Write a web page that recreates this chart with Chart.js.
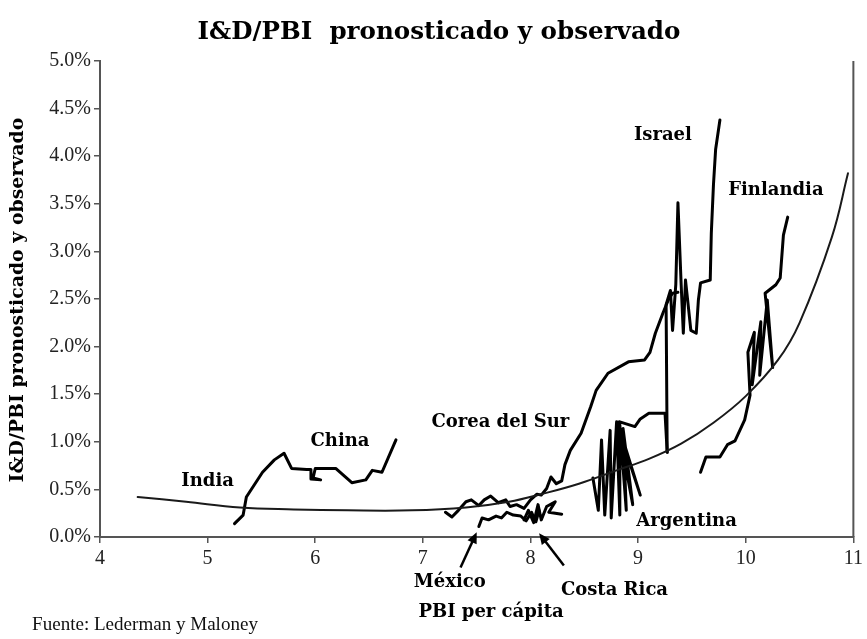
<!DOCTYPE html>
<html><head><meta charset="utf-8">
<script src="https://cdn.jsdelivr.net/npm/chart.js@4.4.1/dist/chart.umd.min.js"></script>
<style>html,body{margin:0;padding:0;background:#fff}#wrap{width:867px;height:639px}</style>
</head><body><div id="wrap"><canvas id="c" width="867" height="639"></canvas></div>
<script>
// ---- Data (x: PBI per cápita (log), y: I&D/PBI in %) ----
const xTickValues = [4, 5, 6, 7, 8, 9, 10, 11];
const yTickValues = [0, 0.5, 1, 1.5, 2, 2.5, 3, 3.5, 4, 4.5, 5];

const fittedX = [4.35, 4.8, 5.3, 5.8, 6.3, 6.9, 7.4, 7.8, 8.1, 8.45, 8.8, 9.1, 9.4, 9.7, 10.0, 10.3, 10.5, 10.8, 10.95];
const fittedY = [0.42, 0.37, 0.31, 0.29, 0.28, 0.28, 0.31, 0.37, 0.45, 0.56, 0.70, 0.82, 0.98, 1.20, 1.48, 1.86, 2.25, 3.15, 3.82];

const indiaChinaX = [5.25, 5.33, 5.36, 5.51, 5.62, 5.71, 5.78, 5.92, 5.96, 5.96, 6.05, 5.98, 6.0, 6.19, 6.34, 6.47, 6.53, 6.62, 6.75];
const indiaChinaY = [0.14, 0.23, 0.42, 0.68, 0.81, 0.88, 0.72, 0.71, 0.71, 0.61, 0.60, 0.62, 0.72, 0.72, 0.57, 0.60, 0.70, 0.68, 1.02];

const koreaX = [7.21, 7.27, 7.33, 7.40, 7.45, 7.52, 7.57, 7.63, 7.70, 7.77, 7.81, 7.87, 7.94, 8.00, 8.06, 8.10, 8.15, 8.19, 8.24, 8.29, 8.32, 8.37, 8.47, 8.56, 8.61, 8.72, 8.91, 9.06, 9.11, 9.16, 9.23, 9.28, 9.32, 9.37];
const koreaY = [0.26, 0.21, 0.28, 0.37, 0.39, 0.33, 0.39, 0.43, 0.36, 0.39, 0.32, 0.34, 0.30, 0.39, 0.45, 0.44, 0.51, 0.63, 0.56, 0.59, 0.76, 0.91, 1.09, 1.37, 1.54, 1.72, 1.84, 1.86, 1.94, 2.14, 2.35, 2.49, 2.56, 2.57];

const israelX = [9.27, 9.26, 9.30, 9.32, 9.35, 9.37, 9.40, 9.42, 9.44, 9.46, 9.49, 9.54, 9.56, 9.58, 9.67, 9.68, 9.70, 9.72, 9.76];
const israelY = [0.89, 2.44, 2.59, 2.17, 2.65, 3.51, 2.65, 2.14, 2.70, 2.49, 2.17, 2.14, 2.49, 2.67, 2.70, 3.19, 3.70, 4.07, 4.38];

const argentinaX = [8.58, 8.63, 8.66, 8.69, 8.74, 8.75, 8.80, 8.83, 8.83, 8.89, 8.86, 8.95, 8.81, 9.02, 8.80, 8.83, 8.97, 9.02, 9.10, 9.25, 9.27];
const argentinaY = [0.62, 0.28, 1.02, 0.23, 1.12, 0.20, 1.21, 0.23, 1.18, 0.28, 1.14, 0.34, 1.20, 0.44, 1.20, 1.21, 1.16, 1.24, 1.30, 1.30, 0.89];

const finlandX = [9.58, 9.63, 9.76, 9.83, 9.90, 9.99, 10.04, 10.02, 10.08, 10.06, 10.14, 10.13, 10.20, 10.25, 10.18, 10.28, 10.32, 10.35, 10.39];
const finlandY = [0.68, 0.84, 0.84, 0.97, 1.01, 1.23, 1.49, 1.94, 2.15, 1.60, 2.26, 1.70, 2.49, 1.78, 2.56, 2.65, 2.72, 3.17, 3.36];

const mexicoX = [7.52, 7.55, 7.61, 7.68, 7.73, 7.78, 7.84, 7.91, 7.96, 8.01, 8.05, 8.08];
const mexicoY = [0.11, 0.20, 0.18, 0.22, 0.20, 0.26, 0.23, 0.22, 0.17, 0.26, 0.16, 0.28];

const costaRicaX = [7.94, 7.98, 8.03, 8.07, 8.10, 8.15, 8.23, 8.17, 8.29];
const costaRicaY = [0.18, 0.28, 0.15, 0.34, 0.18, 0.32, 0.37, 0.26, 0.24];

// ---- Annotations (text labels in data coordinates) ----
const labelTexts = ['India', 'China', 'Corea del Sur', 'Israel', 'Finlandia', 'Argentina', 'México', 'Costa Rica'];
const labelX = [5.0, 6.23, 7.72, 9.23, 10.28, 9.45, 7.25, 8.78];
const labelY = [0.58, 1.01, 1.20, 4.22, 3.64, 0.16, -0.48, -0.56];

const arrowTailX = [7.35, 8.31];
const arrowTailY = [-0.32, -0.30];
const arrowHeadX = [7.50, 8.08];
const arrowHeadY = [0.05, 0.04];

const titleText = 'I&D/PBI  pronosticado y observado';
const yTitleText = 'I&D/PBI pronosticado y observado';
const xTitleText = 'PBI per cápita';
const sourceText = 'Fuente: Lederman y Maloney';

function pts(xs, ys) { return xs.map((x, i) => ({x: x, y: ys[i]})); }
function series(label, xs, ys, w, color, tension) {
  return {label: label, data: pts(xs, ys), showLine: true, borderColor: color, backgroundColor: color,
    borderWidth: w, pointRadius: 0, tension: tension || 0, borderJoinStyle: 'round', borderCapStyle: 'round'};
}

function fitSize(ctx, text, weight, family, targetW) {
  ctx.font = weight + ' 100px ' + family;
  return 100 * targetW / ctx.measureText(text).width;
}
function drawFit(ctx, text, cx, cy, targetW, weight, family, color) {
  const s = fitSize(ctx, text, weight, family, targetW);
  ctx.font = weight + ' ' + s.toFixed(2) + 'px ' + family;
  ctx.fillStyle = color;
  ctx.textAlign = 'center';
  ctx.textBaseline = 'middle';
  ctx.fillText(text, cx, cy);
}
function drawText(ctx, text, cx, cy, font, color) {
  ctx.font = font;
  ctx.fillStyle = color;
  ctx.textAlign = 'center';
  ctx.textBaseline = 'middle';
  ctx.fillText(text, cx, cy);
}

const annot = {
  id: 'annot',
  afterDraw(chart) {
    const ctx = chart.ctx, xs = chart.scales.x, ys = chart.scales.y, a = chart.chartArea;
    ctx.save();
    // right border
    ctx.strokeStyle = '#555'; ctx.lineWidth = 2;
    ctx.beginPath(); ctx.moveTo(a.right, a.top); ctx.lineTo(a.right, a.bottom); ctx.stroke();
    // labels
    const serifB = '"DejaVu Serif", serif';
    const labelFont = 'bold 18px ' + serifB;
    labelTexts.forEach((t, i) => {
      drawText(ctx, t, xs.getPixelForValue(labelX[i]), ys.getPixelForValue(labelY[i]), labelFont, '#000');
    });
    // arrows
    ctx.strokeStyle = '#000'; ctx.fillStyle = '#000'; ctx.lineWidth = 2.5;
    arrowTailX.forEach((tx, i) => {
      const x1 = xs.getPixelForValue(tx), y1 = ys.getPixelForValue(arrowTailY[i]);
      const x2 = xs.getPixelForValue(arrowHeadX[i]), y2 = ys.getPixelForValue(arrowHeadY[i]);
      const ang = Math.atan2(y2 - y1, x2 - x1);
      ctx.beginPath(); ctx.moveTo(x1, y1); ctx.lineTo(x2 - 6 * Math.cos(ang), y2 - 6 * Math.sin(ang)); ctx.stroke();
      ctx.beginPath();
      ctx.moveTo(x2, y2);
      ctx.lineTo(x2 - 11 * Math.cos(ang) + 5 * Math.sin(ang), y2 - 11 * Math.sin(ang) - 5 * Math.cos(ang));
      ctx.lineTo(x2 - 11 * Math.cos(ang) - 5 * Math.sin(ang), y2 - 11 * Math.sin(ang) + 5 * Math.cos(ang));
      ctx.closePath(); ctx.fill();
    });
    // title
    drawFit(ctx, titleText, 439, 33, 483, 'bold', serifB, '#000');
    // x title
    drawText(ctx, xTitleText, 491, 612, labelFont, '#000');
    // source
    drawFit(ctx, sourceText, 145, 625, 226, 'normal', '"Liberation Serif", serif', '#111');
    // y title
    ctx.save();
    ctx.translate(18, 300);
    ctx.rotate(-Math.PI / 2);
    drawFit(ctx, yTitleText, 0, 0, 365, 'bold', serifB, '#000');
    ctx.restore();
    ctx.restore();
  }
};

const tickFont = {family: '"Liberation Serif", serif', size: 20};

new Chart(document.getElementById('c'), {
  type: 'scatter',
  data: {
    datasets: [
      series('Ajuste', fittedX, fittedY, 2, '#1a1a1a', 0.4),
      series('India/China', indiaChinaX, indiaChinaY, 3, '#000'),
      series('Corea del Sur', koreaX, koreaY, 3, '#000'),
      series('Israel', israelX, israelY, 3, '#000'),
      series('Argentina', argentinaX, argentinaY, 3, '#000'),
      series('Finlandia', finlandX, finlandY, 3, '#000'),
      series('México', mexicoX, mexicoY, 3, '#000'),
      series('Costa Rica', costaRicaX, costaRicaY, 3, '#000')
    ]
  },
  options: {
    responsive: false,
    animation: false,
    devicePixelRatio: 1,
    layout: {padding: {top: 61, right: 11, left: 0, bottom: 0}},
    plugins: {legend: {display: false}, title: {display: false}, tooltip: {enabled: false}},
    scales: {
      x: {
        type: 'linear', min: 4, max: 11,
        afterBuildTicks: s => { s.ticks = xTickValues.map(v => ({value: v})); },
        ticks: {font: tickFont, color: '#222', padding: 4, callback: v => String(v), maxRotation: 0},
        grid: {drawOnChartArea: false, drawTicks: true, tickLength: 6, color: '#555', lineWidth: 1.5},
        border: {color: '#555', width: 2},
        afterFit: s => { s.height = 102; }
      },
      y: {
        type: 'linear', min: 0, max: 5,
        afterBuildTicks: s => { s.ticks = yTickValues.map(v => ({value: v})); },
        ticks: {font: tickFont, color: '#222', padding: 3, callback: v => v.toFixed(1) + '%'},
        grid: {drawOnChartArea: false, drawTicks: true, tickLength: 6, color: '#555', lineWidth: 1.5},
        border: {color: '#555', width: 2},
        afterFit: s => { s.width = 100; }
      }
    }
  },
  plugins: [annot]
});
</script></body></html>
